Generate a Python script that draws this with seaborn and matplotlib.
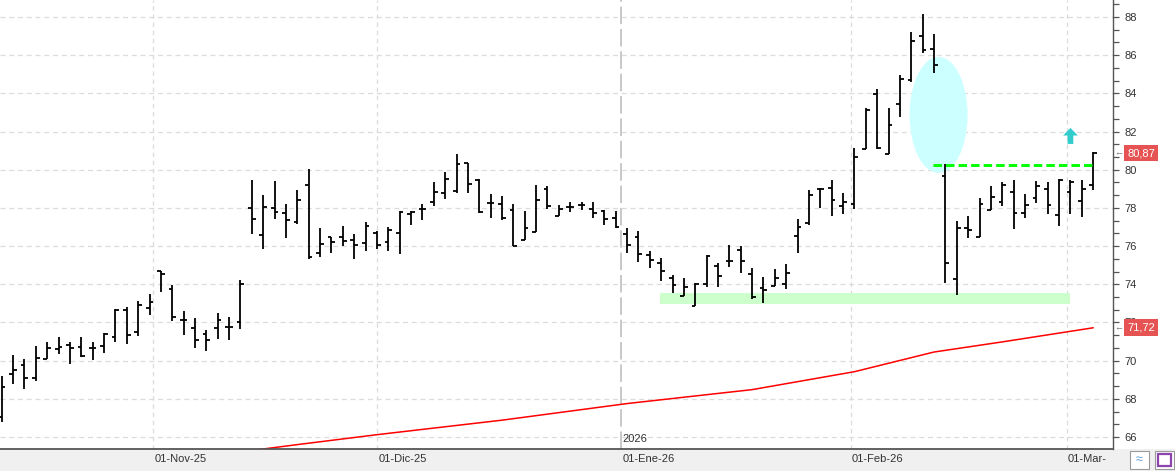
import numpy as np
import pandas as pd
import matplotlib
matplotlib.use("Agg")
import matplotlib.pyplot as plt
import matplotlib.transforms as mtransforms
from matplotlib.patches import Ellipse, Rectangle
from matplotlib.ticker import AutoMinorLocator, MultipleLocator
import seaborn as sns

# daily OHLC, 14-Oct-25 .. 04-Mar-26 (one entry per trading day)
opens = [67.06, 69.28, 69.75, 69.07, 70.10, 70.59, 70.80, 70.69, 70.64, 70.75,
         71.22, 72.65, 71.50, 72.74, 74.69, 73.73, 72.11, 71.69, 71.38, 71.69,
         71.74, 72.00, 77.98, 76.56, 77.98, 77.73, 77.26, 79.20, 75.62, 76.46,
         76.46, 76.32, 76.14, 76.67, 76.20, 76.67, 77.68, 77.96, 78.31, 78.76,
         78.90, 80.33, 79.46, 78.24, 78.20, 77.89, 76.30, 76.75, 78.97, 77.59,
         78.05, 78.17, 77.93, 77.85, 77.45, 76.65, 76.47, 75.52, 75.10, 74.31,
         73.38, 72.86, 74.02, 74.96, 75.24, 75.78, 74.54, 73.79, 73.91, 74.02,
         76.51, 77.19, 78.97, 79.03, 78.08, 78.20, 81.07, 83.95, 80.81, 83.43,
         84.68, 87.01, 86.32, 79.65, 74.26, 76.93, 76.46, 77.87, 78.31, 78.82,
         77.72, 78.50, 78.99, 77.61, 78.82, 78.34, 79.20]
highs = [69.19, 70.29, 70.08, 70.77, 70.97, 71.24, 70.97, 71.24, 70.97, 71.43,
         72.69, 72.83, 73.12, 73.49, 74.69, 73.98, 72.60, 72.23, 71.60, 72.49,
         72.28, 74.20, 79.46, 78.68, 79.41, 78.20, 78.94, 80.04, 76.95, 76.46,
         77.05, 76.63, 77.26, 76.79, 77.00, 77.82, 77.86, 78.20, 79.34, 79.88,
         80.81, 80.33, 79.52, 78.73, 78.62, 78.20, 77.82, 79.20, 79.15, 78.13,
         78.29, 78.33, 78.29, 77.89, 77.82, 76.93, 76.77, 75.74, 75.36, 74.49,
         74.31, 74.05, 75.52, 75.10, 76.06, 76.00, 74.83, 74.36, 74.78, 75.06,
         77.42, 78.92, 79.03, 79.46, 78.78, 81.14, 83.22, 84.23, 83.25, 84.96,
         87.21, 88.16, 87.11, 80.32, 77.33, 77.58, 78.50, 79.15, 79.36, 79.46,
         78.73, 79.41, 79.34, 79.50, 79.46, 79.46, 80.91]
lows = [66.80, 68.77, 68.53, 68.95, 70.10, 70.36, 69.84, 70.19, 70.05, 70.42,
        70.99, 70.89, 71.31, 72.41, 73.59, 72.09, 71.36, 70.66, 70.52, 71.15,
        71.10, 71.67, 76.63, 75.83, 77.42, 76.42, 77.14, 75.31, 75.45, 75.66,
        76.01, 75.31, 75.76, 75.86, 75.76, 75.60, 77.12, 77.38, 78.12, 78.48,
        78.80, 78.80, 77.74, 77.49, 77.37, 75.99, 76.30, 76.75, 77.92, 77.56,
        77.80, 77.91, 77.49, 77.12, 76.96, 75.62, 75.18, 74.83, 74.19, 73.52,
        73.38, 72.86, 73.84, 73.84, 74.89, 74.57, 73.21, 73.00, 73.91, 73.73,
        75.62, 77.08, 78.02, 77.59, 77.70, 77.96, 81.07, 81.10, 80.81, 82.78,
        84.61, 86.10, 85.08, 74.08, 73.42, 76.44, 76.46, 77.87, 78.12, 76.91,
        77.49, 78.24, 77.70, 77.07, 77.66, 77.54, 78.96]
closes = [68.63, 69.51, 69.07, 70.12, 70.64, 70.69, 70.64, 70.26, 70.64, 71.39,
          72.65, 71.32, 72.91, 73.05, 74.52, 72.30, 72.11, 71.06, 71.06, 72.11,
          71.74, 74.00, 77.40, 78.03, 77.79, 77.35, 78.40, 75.45, 76.09, 76.20,
          76.27, 76.04, 77.03, 76.04, 76.84, 77.79, 77.79, 77.96, 78.85, 79.50,
          80.28, 79.25, 77.80, 78.24, 77.49, 75.99, 76.93, 78.41, 78.08, 77.96,
          78.05, 78.17, 77.75, 77.40, 77.02, 76.03, 75.57, 75.26, 74.68, 73.96,
          73.84, 74.02, 75.48, 74.43, 75.24, 75.20, 73.35, 73.70, 74.31, 74.57,
          76.98, 78.67, 78.97, 78.40, 78.29, 80.67, 83.13, 81.12, 82.33, 84.77,
          86.72, 86.25, 85.47, 75.10, 76.93, 76.83, 78.20, 78.55, 79.20, 77.73,
          78.13, 79.13, 78.13, 79.46, 79.37, 78.97, 80.87]

# long moving average (red), read at a few bars
ma_bar = [20, 23, 26, 33, 44, 55, 66, 75, 82, 88, 96]
ma_val = [65.15, 65.37, 65.60, 66.12, 66.88, 67.75, 68.48, 69.42, 70.45, 70.98, 71.72]

# month labels and their position on the bar axis
month_pos = [13.33, 33.0, 54.5, 74.67, 93.67]
month_lbl = ["01-Nov-25", "01-Dic-25", "01-Ene-26", "01-Feb-26", "01-Mar-"]

support_lo, support_hi = 72.96, 73.53
resist = 80.25

sns.set_style("white")
plt.rcParams["font.family"] = ["Liberation Sans", "DejaVu Sans"]

fig = plt.figure(figsize=(11.75, 4.71), dpi=100)
fig.patch.set_facecolor("white")
# grey strip under the date axis (drawn below the axes)
fig.patches.append(Rectangle((0, 0), 1, 22 / 471, transform=fig.transFigure,
                             fc="#f0f0f0", ec="none", zorder=-1))
ax = fig.add_axes([0, 22 / 471, 1113 / 1175, 449 / 471])
ax.set_facecolor("white")

n = len(closes)
x = np.arange(n)
ax.set_xlim(-0.15, 97.74)
ax.set_ylim(65.37, 88.89)

# grid
ax.yaxis.set_major_locator(MultipleLocator(2))
ax.yaxis.set_minor_locator(AutoMinorLocator(3))
ax.grid(axis="y", which="major", color="#dcdcdc", linestyle=(0, (4, 3)), lw=0.9)
for p in month_pos:
    if p == 54.5:
        ax.axvline(p, color="#c8c8c8", lw=1.4, linestyle=(0, (9, 2.5)), zorder=0.5)
    else:
        ax.axvline(p, color="#dadada", lw=0.9, linestyle=(0, (3.5, 3)), zorder=0.5)

# annotations behind the bars
ax.fill_between([57.9, 94.0], support_lo, support_hi, color="#ccffcc", lw=0, zorder=1)
ax.add_patch(Ellipse((82.4, 82.87), 5.1, 6.08, color="#ccffff", lw=0, zorder=1))

# OHLC bars
tk = 0.33
ax.vlines(x, lows, highs, color="black", lw=1.3, zorder=3)
ax.hlines(opens, x - tk, x, color="black", lw=1.3, zorder=3)
ax.hlines(closes, x, x + tk, color="black", lw=1.3, zorder=3)

# moving average
ma = pd.DataFrame({"bar": ma_bar, "val": ma_val})
sns.lineplot(data=ma, x="bar", y="val", ax=ax, color="#ff0000", lw=1.1, zorder=2)

# resistance line and arrow
ax.plot([81.9, 95.9], [resist, resist], color="#00ff00", lw=2.1,
        linestyle=(0, (2.9, 1.4)), zorder=4, solid_capstyle="butt")
ax.arrow(94.0, 81.35, 0, 0.84, width=0.5, head_width=1.3, head_length=0.4,
         length_includes_head=True, color="#33cccc", lw=0, zorder=4)

ax.set_xlabel("")
ax.set_ylabel("")

# axes styling
for s in ["left", "top"]:
    ax.spines[s].set_visible(False)
ax.spines["bottom"].set_color("#555555")
ax.spines["bottom"].set_linewidth(1.3)
ax.spines["right"].set_color("#555555")
ax.spines["right"].set_linewidth(1.0)

ax.yaxis.tick_right()
ax.tick_params(axis="y", which="both", direction="out", length=4.3, width=0.9,
               color="#555555", labelsize=8, labelcolor="#333333", pad=4)
ax.set_xticks(month_pos)
ax.set_xticklabels([])
ax.tick_params(axis="x", direction="out", length=5.8, width=1.0, color="#555555")

trans = mtransforms.blended_transform_factory(ax.transData, ax.transAxes)
for p, lbl in zip(month_pos, month_lbl):
    ax.text(p + 0.12, -0.012, lbl, transform=trans, ha="left", va="top",
            fontsize=8, color="#333333", clip_on=False, zorder=6)
ax.text(54.5 + 0.08, 0.012, "2026", transform=trans, ha="left", va="bottom",
        fontsize=8, color="#333333")

# last-value labels on the price scale
rtrans = mtransforms.blended_transform_factory(ax.transAxes, ax.transData)
for val, txt in [(closes[-1], "80,87"), (ma_val[-1], "71,72")]:
    ax.text(1 + 14 / 1113, val, txt, transform=rtrans, ha="left", va="center",
            fontsize=8, color="white", zorder=6, clip_on=False,
            bbox=dict(boxstyle="square,pad=0.3", fc="#e55353", ec="none"))
    ax.text(1 + 10 / 1113, val, "←", transform=rtrans, ha="right", va="center",
            fontsize=6.5, color="#666666", clip_on=False)

# small buttons in the bottom-right corner
for bx in [1130, 1155]:
    fig.patches.append(Rectangle((bx / 1175, 2 / 471), 19 / 1175, 18 / 471,
                                 transform=fig.transFigure, fc="white",
                                 ec="#9a9a9a", lw=0.8))
fig.text(1139.5 / 1175, 11 / 471, "≈", ha="center", va="center",
         fontsize=9, color="#5b9bd5")
fig.patches.append(Rectangle((1158 / 1175, 5 / 471), 13 / 1175, 12 / 471,
                             transform=fig.transFigure, fc="white",
                             ec="#8e44ad", lw=1.6))

fig.savefig("out.png", dpi=100, facecolor=fig.get_facecolor())
